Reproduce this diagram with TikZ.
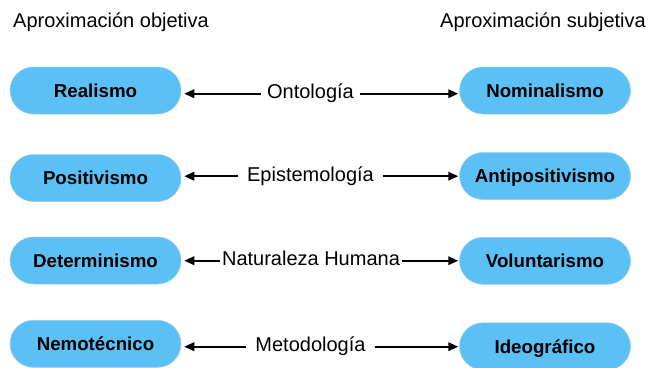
\documentclass[tikz,border=0pt]{standalone}
\usepackage{fontspec}
\setmainfont{Liberation Sans}
\usetikzlibrary{arrows.meta}
\definecolor{pillblue}{RGB}{90,192,245}
\definecolor{pillrim}{RGB}{150,205,235}
\begin{document}
\begin{tikzpicture}[x=1pt,y=-1pt,
  pill/.style={draw=pillrim, line width=0.5pt, fill=pillblue,
    rounded corners=23.5pt, minimum width=171pt, minimum height=47pt,
    inner sep=0pt, text height=13.4pt, text depth=0pt,
    font=\fontsize{18.7}{22}\selectfont\bfseries},
  header/.style={anchor=base west, inner sep=0pt, font=\fontsize{20}{24}\selectfont},
  dimlabel/.style={anchor=base, inner ysep=0pt, font=\fontsize{20}{24}\selectfont},
  link/.style={line width=1.9pt, -{Triangle[length=10pt,width=8.5pt]}}]
\useasboundingbox (0,0) rectangle (650,367);

% column headings
\node[header] (hl) at (13,27) {Aproximación objetiva};
\node[header] (hr) at (440,27) {Aproximación subjetiva};

% objective side
\node[pill] (L1) at (95.5,90.5)  {Realismo};
\node[pill] (L2) at (95.5,178)   {Positivismo};
\node[pill] (L3) at (95.5,260.5) {Determinismo};
\node[pill] (L4) at (95.5,343.8) {Nemotécnico};

% subjective side
\node[pill] (R1) at (545,90.5)  {Nominalismo};
\node[pill] (R2) at (545,176)   {Antipositivismo};
\node[pill] (R3) at (545,260.8) {Voluntarismo};
\node[pill] (R4) at (545,346.3) {Ideográfico};

% dimension labels, placed by their baselines
\node[dimlabel, inner xsep=6pt] (D1) at (310.5,98.5)  {Ontología};
\node[dimlabel, inner xsep=8.5pt] (D2) at (310.5,181) {Epistemología};
\node[dimlabel, inner xsep=2pt] (D3) at (311,265.5)   {Naturaleza Humana};
\node[dimlabel, inner xsep=9pt] (D4) at (310.5,351.5) {Metodología};

% connectors from each label to both poles, at mid x-height
\foreach \i in {1,2,3,4}{
  \draw[link, shorten >=3pt] ([yshift=4.8pt]D\i.base west)
    -- ([yshift=4.8pt]D\i.base west -| L\i.east);
  \draw[link, shorten >=1pt] ([yshift=4.8pt]D\i.base east)
    -- ([yshift=4.8pt]D\i.base east -| R\i.west);
}
\end{tikzpicture}
\end{document}
